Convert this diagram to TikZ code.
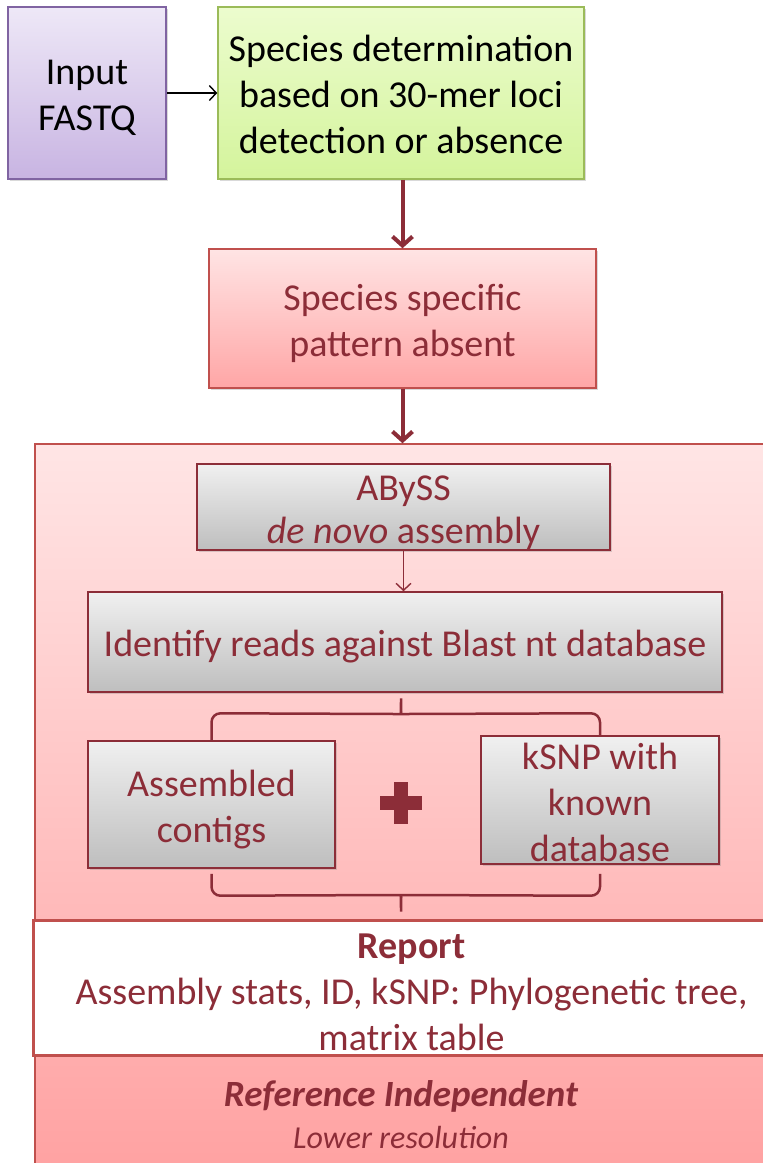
\documentclass[tikz,border=0pt]{standalone}
\usepackage{fontspec}
\setmainfont{Carlito}
\usetikzlibrary{arrows.meta,shadows,calc}
\definecolor{dred}{RGB}{140,45,56}
\definecolor{accent}{RGB}{192,80,77}
\definecolor{purpleline}{RGB}{128,100,162}
\definecolor{greenline}{RGB}{155,187,89}
% taller first line, which sets the text block a little lower in its box
\newcommand\topstrut[1][0.95em]{\rule{0pt}{#1}}
\begin{document}
\begin{tikzpicture}[x=1pt,y=-1pt,
  plaintxt/.style={align=center, inner sep=0pt},
  txt/.style={plaintxt, font=\fontsize{38}{46}\selectfont},
  basebox/.style={txt, draw, line width=1.5pt, rectangle,
    drop shadow={shadow xshift=2pt, shadow yshift=-2pt, opacity=.3}},
  purplebox/.style={basebox, draw=purpleline, top color={rgb,255:red,238;green,232;blue,247},
    bottom color={rgb,255:red,200;green,180;blue,226}, text=black},
  greenbox/.style={basebox, draw=greenline, top color={rgb,255:red,236;green,252;blue,206},
    bottom color={rgb,255:red,212;green,244;blue,156}, text=black},
  pinkbox/.style={basebox, draw=accent, top color={rgb,255:red,255;green,228;blue,228},
    bottom color={rgb,255:red,255;green,166;blue,166}, text=dred},
  graybox/.style={basebox, draw=dred, top color={rgb,255:red,240;green,240;blue,240},
    bottom color={rgb,255:red,190;green,190;blue,190}, text=dred},
  panel/.style={rectangle, draw=accent, line width=1.5pt, inner sep=0pt,
    top color={rgb,255:red,255;green,229;blue,229}, bottom color={rgb,255:red,255;green,160;blue,160}},
  reportbox/.style={txt, rectangle, draw=accent, line width=3pt, fill=white, text=dred},
  thinarrow/.style={line width=1.4pt, -{Straight Barb[length=7pt,width=15pt]}},
  bigarrow/.style={dred, line width=4pt, -{Straight Barb[length=9pt,width=20pt]}},
  bracket/.style={dred, line width=2.5pt, rounded corners=9pt},
]
\useasboundingbox (0,0) rectangle (763,1163);
\clip (0,0) rectangle (763,1163);

% top row
\node[purplebox, minimum width=158pt, minimum height=172pt] (input) at (87,93) {\topstrut[0.9em]Input\\FASTQ};
\node[greenbox, minimum width=366pt, minimum height=172pt] (species) at (401,93)
  {\topstrut[0.78em]Species determination\\based on 30-mer loci\\detection or absence};
\draw[thinarrow] (input.east) -- (species.west);

% no pattern found
\node[pinkbox, minimum width=387pt, minimum height=139pt] (pattern) at (402.5,318.5)
  {\topstrut Species specific\\pattern absent};
\draw[bigarrow] (species.south -| pattern.north) -- (pattern.north);

% reference independent panel
\node[panel, minimum width=755pt, minimum height=746pt] (indep) at (412.5,817) {};
\draw[bigarrow] (pattern.south) -- (pattern.south |- indep.north);

\node[graybox, minimum width=413pt, minimum height=86pt, font=\fontsize{38}{43}\selectfont] (abyss) at (403.5,507)
  {\topstrut ABySS\\\textit{de novo} assembly};
\node[graybox, minimum width=634pt, minimum height=100pt] (identify) at (405,642)
  {\topstrut Identify reads against Blast nt database};
\draw[thinarrow, dred] (abyss.south) -- (abyss.south |- identify.north);

\node[graybox, minimum width=247pt, minimum height=127pt] (contigs) at (211.5,804.5)
  {\topstrut Assembled\\contigs};
\node[graybox, minimum width=238pt, minimum height=128pt] (ksnp) at (600,800)
  {\topstrut[0.8em]kSNP with\\known\\database};

% plus sign between the two results
\coordinate (plus) at (401,803);
\fill[dred] ($(plus)+(-21,-7)$) rectangle ($(plus)+(21,7)$);
\fill[dred] ($(plus)+(-7,-21)$) rectangle ($(plus)+(7,21)$);

% report
\node[reportbox, minimum width=757pt, minimum height=135pt] (report) at (411.5,987.5)
  {\topstrut[0.88em]\textbf{Report}\\Assembly stats, ID, kSNP: Phylogenetic tree,\\matrix table};

% upper brace: identify -> both results
\coordinate (tpeak) at (401,693);
\draw[bracket] (contigs.north) -- ($(contigs.north)+(0,-27)$) -- ($(tpeak)+(-8,21)$)
  .. controls ($(tpeak)+(-1,21)$) and ($(tpeak)+(0,18)$) .. (tpeak)
  .. controls ($(tpeak)+(0,18)$) and ($(tpeak)+(1,21)$) .. ($(tpeak)+(8,21)$)
  -- ($(ksnp.north)+(0,-22)$) -- (ksnp.north);
% lower brace: both results -> report
\coordinate (bpeak) at (401,917);
\draw[bracket] ($(contigs.south)+(0,5)$) -- ($(contigs.south)+(0,27)$) -- ($(bpeak)+(-8,-22)$)
  .. controls ($(bpeak)+(-1,-22)$) and ($(bpeak)+(0,-19)$) .. (bpeak)
  .. controls ($(bpeak)+(0,-19)$) and ($(bpeak)+(1,-22)$) .. ($(bpeak)+(8,-22)$)
  -- ($(ksnp.south)+(0,31)$) -- ($(ksnp.south)+(0,9)$);

% footer of the panel
\node[plaintxt, text=dred, font=\fontsize{37}{40}\selectfont\bfseries\itshape] (refind) at (401,1096) {Reference Independent};
\node[plaintxt, text=dred, font=\fontsize{32}{36}\selectfont\itshape] (lowres) at (401,1137) {Lower resolution};
\end{tikzpicture}
\end{document}
